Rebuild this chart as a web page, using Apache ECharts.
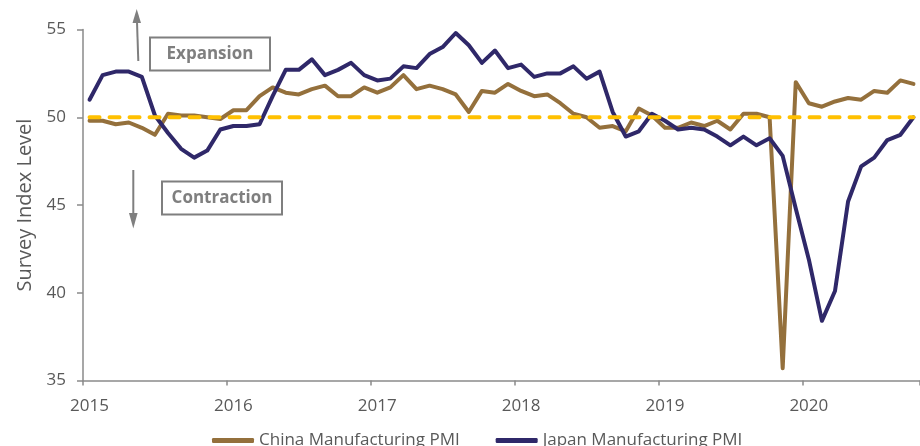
<!DOCTYPE html>
<html>
<head>
<meta charset="utf-8">
<script src="https://cdn.jsdelivr.net/npm/echarts@6/dist/echarts.min.js"></script>
<style>
  html, body { margin: 0; padding: 0; background: #ffffff; }
  #chart { width: 920px; height: 446px; }
</style>
</head>
<body>
<div id="chart"></div>
<script>
// Monthly periods shown along the horizontal axis
const months = [
  'Sep 2015','Oct 2015','Nov 2015','Dec 2015',
  'Jan 2016','Feb 2016','Mar 2016','Apr 2016','May 2016','Jun 2016','Jul 2016','Aug 2016','Sep 2016','Oct 2016','Nov 2016','Dec 2016',
  'Jan 2017','Feb 2017','Mar 2017','Apr 2017','May 2017','Jun 2017','Jul 2017','Aug 2017','Sep 2017','Oct 2017','Nov 2017','Dec 2017',
  'Jan 2018','Feb 2018','Mar 2018','Apr 2018','May 2018','Jun 2018','Jul 2018','Aug 2018','Sep 2018','Oct 2018','Nov 2018','Dec 2018',
  'Jan 2019','Feb 2019','Mar 2019','Apr 2019','May 2019','Jun 2019','Jul 2019','Aug 2019','Sep 2019','Oct 2019','Nov 2019','Dec 2019',
  'Jan 2020','Feb 2020','Mar 2020','Apr 2020','May 2020','Jun 2020','Jul 2020','Aug 2020','Sep 2020','Oct 2020','Nov 2020','Dec 2020'
];

// Axis labels, one every 11 periods
const yearLabels = ['2015', '2016', '2017', '2018', '2019', '2020'];
const labelStep = 11;

const chinaPMI = [
  49.8, 49.8, 49.6, 49.7,
  49.4, 49.0, 50.2, 50.1, 50.1, 50.0, 49.9, 50.4, 50.4, 51.2, 51.7, 51.4,
  51.3, 51.6, 51.8, 51.2, 51.2, 51.7, 51.4, 51.7, 52.4, 51.6, 51.8, 51.6,
  51.3, 50.3, 51.5, 51.4, 51.9, 51.5, 51.2, 51.3, 50.8, 50.2, 50.0, 49.4,
  49.5, 49.2, 50.5, 50.1, 49.4, 49.4, 49.7, 49.5, 49.8, 49.3, 50.2, 50.2,
  50.0, 35.7, 52.0, 50.8, 50.6, 50.9, 51.1, 51.0, 51.5, 51.4, 52.1, 51.9
];

const japanPMI = [
  51.0, 52.4, 52.6, 52.6,
  52.3, 50.1, 49.1, 48.2, 47.7, 48.1, 49.3, 49.5, 49.5, 49.6, 51.2, 52.7,
  52.7, 53.3, 52.4, 52.7, 53.1, 52.4, 52.1, 52.2, 52.9, 52.8, 53.6, 54.0,
  54.8, 54.1, 53.1, 53.8, 52.8, 53.0, 52.3, 52.5, 52.5, 52.9, 52.2, 52.6,
  50.3, 48.9, 49.2, 50.2, 49.8, 49.3, 49.4, 49.3, 48.9, 48.4, 48.9, 48.4,
  48.8, 47.8, 44.8, 41.9, 38.4, 40.1, 45.2, 47.2, 47.7, 48.7, 49.0, 50.0
];

// 50 separates expansion from contraction
const neutralLevel = months.map(() => 50);

const FONT = '"Open Sans", "Noto Sans", sans-serif';
const AXIS_GREY = '#8a8a8a';
const TEXT_GREY = '#595959';
const NOTE_GREY = '#7f7f7f';

const chart = echarts.init(document.getElementById('chart'), null, { renderer: 'canvas' });

chart.setOption({
  animation: false,
  backgroundColor: '#ffffff',
  grid: { left: 83, right: -4, top: 29.5, bottom: 65.5, containLabel: false },
  legend: {
    data: ['China Manufacturing PMI', 'Japan Manufacturing PMI'],
    left: 207,
    top: 427,
    icon: 'roundRect',
    itemWidth: 42,
    itemHeight: 5,
    itemGap: 36,
    textStyle: { fontFamily: FONT, fontSize: 17, color: TEXT_GREY }
  },
  xAxis: {
    type: 'category',
    data: months,
    boundaryGap: true,
    axisLine: { lineStyle: { color: AXIS_GREY, width: 1.5 } },
    axisTick: { show: true, interval: labelStep - 1, length: 5, lineStyle: { color: AXIS_GREY, width: 1.5 } },
    axisLabel: {
      interval: labelStep - 1,
      margin: 17,
      fontFamily: FONT,
      fontSize: 17,
      color: TEXT_GREY,
      formatter: (value, index) => (index % labelStep === 0 ? yearLabels[index / labelStep] || '' : '')
    },
    splitLine: { show: false }
  },
  yAxis: {
    type: 'value',
    min: 35,
    max: 55,
    interval: 5,
    name: 'Survey Index Level',
    nameLocation: 'middle',
    nameRotate: 90,
    nameGap: 46,
    nameTextStyle: { fontFamily: FONT, fontSize: 20, color: TEXT_GREY },
    axisLine: { show: true, lineStyle: { color: AXIS_GREY, width: 1.5 } },
    axisTick: { show: true, length: 6, lineStyle: { color: AXIS_GREY, width: 1.5 } },
    axisLabel: { margin: 17, fontFamily: FONT, fontSize: 17, color: TEXT_GREY },
    splitLine: { show: false }
  },
  series: [
    {
      name: 'China Manufacturing PMI',
      type: 'line',
      data: chinaPMI,
      symbol: 'none',
      color: '#94703c',
      lineStyle: { width: 4, color: '#94703c', join: 'round', cap: 'round' },
      z: 2
    },
    {
      name: 'Japan Manufacturing PMI',
      type: 'line',
      data: japanPMI,
      symbol: 'none',
      color: '#2f2869',
      lineStyle: { width: 4, color: '#2f2869', join: 'round', cap: 'round' },
      z: 3
    },
    {
      name: 'Neutral level',
      type: 'line',
      data: neutralLevel,
      symbol: 'none',
      silent: true,
      lineStyle: { width: 4, color: '#ffc000', type: [10, 10], cap: 'round' },
      z: 4
    }
  ],
  graphic: [
    // "Expansion" note with upward arrow
    { type: 'line', shape: { x1: 138.3, y1: 61, x2: 137, y2: 22 }, style: { stroke: NOTE_GREY, lineWidth: 2 } },
    { type: 'polygon', shape: { points: [[136.7, 9], [132.5, 23], [141, 23]] }, style: { fill: NOTE_GREY } },
    { type: 'rect', shape: { x: 150, y: 37.5, width: 120, height: 33 }, style: { fill: '#ffffff', stroke: NOTE_GREY, lineWidth: 2 } },
    { type: 'text', x: 210, y: 54.5, style: { text: 'Expansion', font: 'bold 17px "Open Sans", sans-serif', fill: NOTE_GREY, align: 'center', verticalAlign: 'middle' } },
    // "Contraction" note with downward arrow
    { type: 'line', shape: { x1: 133.3, y1: 170, x2: 133.3, y2: 214 }, style: { stroke: NOTE_GREY, lineWidth: 2 } },
    { type: 'polygon', shape: { points: [[133.3, 228.5], [129, 213], [137.6, 213]] }, style: { fill: NOTE_GREY } },
    { type: 'rect', shape: { x: 162, y: 181.5, width: 120, height: 33 }, style: { fill: '#ffffff', stroke: NOTE_GREY, lineWidth: 2 } },
    { type: 'text', x: 222, y: 198.5, style: { text: 'Contraction', font: 'bold 17px "Open Sans", sans-serif', fill: NOTE_GREY, align: 'center', verticalAlign: 'middle' } }
  ]
});
</script>
</body>
</html>
